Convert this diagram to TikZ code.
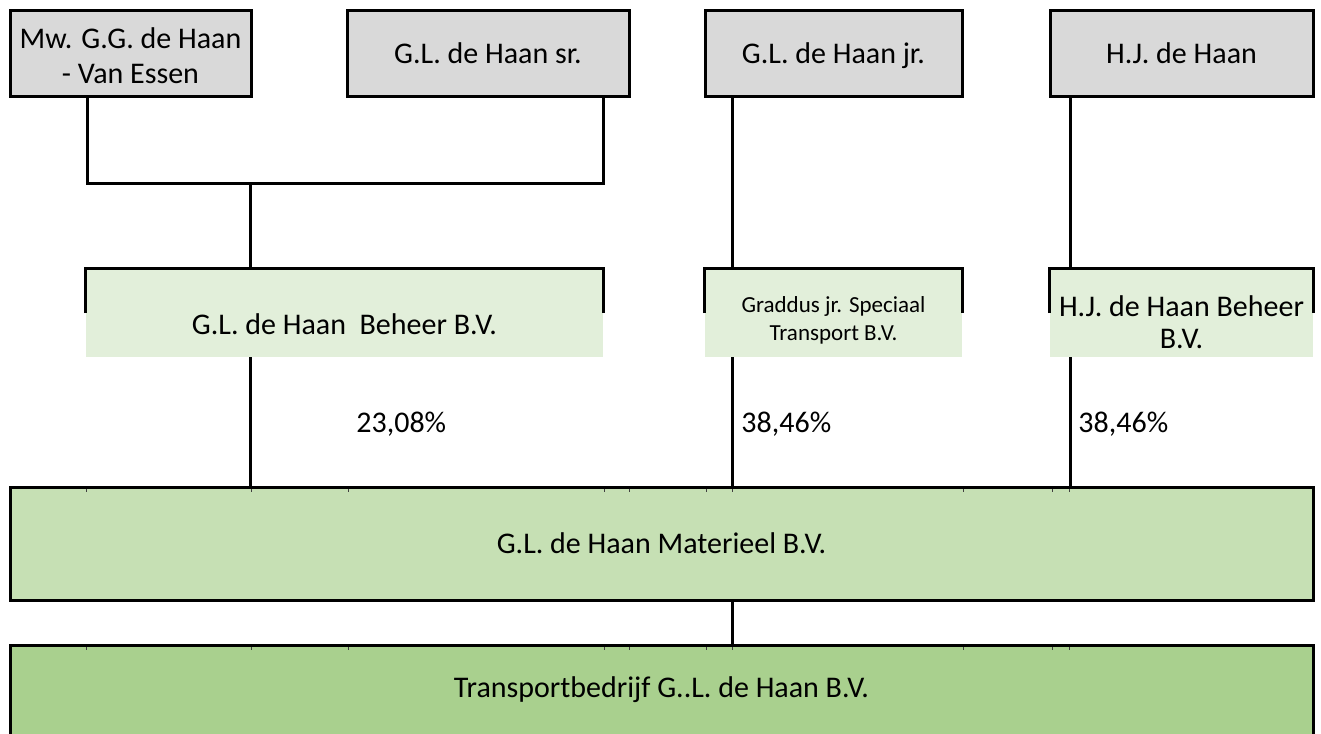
\documentclass[tikz,border=0pt]{standalone}
\usepackage{fontspec}
\setmainfont{Carlito}
\definecolor{greybox}{HTML}{D9D9D9}
\definecolor{palegreen}{HTML}{E2EFDA}
\definecolor{midgreen}{HTML}{C6E0B4}
\definecolor{darkgreen}{HTML}{A9D08E}
\newcommand\mystrut{\rule[-2.5pt]{0pt}{15pt}}
\begin{document}
\begin{tikzpicture}[x=0.5pt,y=-0.5pt,
  person/.style={draw=black,line width=1.5pt,fill=greybox,inner sep=0pt,
    minimum height=43pt,align=center,font=\fontsize{15}{17.5}\selectfont},
  holding/.style={fill=palegreen,inner sep=0pt,minimum height=44pt},
  company/.style={draw=black,line width=1.5pt,inner sep=0pt,
    minimum width=651.5pt,font=\fontsize{15}{18}\selectfont},
  conn/.style={draw=black,line width=1.5pt},
  partial/.style={draw=black,line width=1.5pt},
  txt/.style={inner sep=0pt,align=center,font=\fontsize{15}{16}\selectfont},
  pct/.style={inner sep=0pt,anchor=west,font=\fontsize{15}{18}\selectfont},
  tick/.style={draw=black!75,line width=0.5pt}]
\useasboundingbox (0,0) rectangle (1321,733);
\path[clip] (0,0) rectangle (1321,733);

% top row: persons
\node[person,minimum width=120.5pt] (b1) at (130.5,54) {};
\node[txt,font=\fontsize{15}{17.5}\selectfont] (b1T) at (130.5,56) {Mw. G.G. de Haan\\- Van Essen};
\node[person,minimum width=141pt] (b2) at (488,54) {G.L. de Haan sr.\mystrut};
\node[person,minimum width=128.5pt] (b3) at (833.5,54) {G.L. de Haan jr.\mystrut};
\node[person,minimum width=131.5pt] (b4) at (1181.5,54) {H.J. de Haan\mystrut};

% holdings
\node[holding,minimum width=258.5pt] (beh) at (344.5,313) {};
\node[txt] (behT) at (344.5,324) {G.L. de Haan\ \ Beheer B.V.};
\node[holding,minimum width=128.5pt] (gra) at (833.5,313) {};
\node[txt,font=\fontsize{11.5}{14}\selectfont] (graT) at (833.5,320) {Graddus jr. Speciaal\\Transport B.V.};
\node[holding,minimum width=131.5pt] (hjb) at (1181.5,313) {};
\node[txt] (hjbT) at (1181.5,322) {H.J. de Haan Beheer\\B.V.};
\foreach \n in {beh,gra,hjb}
  \draw[partial] (\n.west) -- (\n.north west) -- (\n.north east) -- (\n.east);

% companies
\node[company,fill=midgreen,minimum height=56.5pt] (mat) at (661.5,543.5) {G.L. de Haan Materieel B.V.};
\node[company,fill=darkgreen,minimum height=45pt] (trans) at (661.5,690) {Transportbedrijf G..L. de Haan B.V.};

% grid ticks
\foreach \x in {86,251,348,604,629,706,732,963,1052,1069}{
  \draw[tick] (\x,489) -- (\x,492);
  \draw[tick] (\x,647) -- (\x,650);
}

% percentages
\node[pct] (p1) at (356,424) {23,08\%};
\node[pct] (p2) at (741,424) {38,46\%};
\node[pct] (p3) at (1078,424) {38,46\%};

% connectors
\coordinate (ja) at (87,183);
\coordinate (jb) at (603,183);
\coordinate (jc) at (250,183);
\coordinate (xc) at (732,0);
\coordinate (xd) at (1070,0);
\draw[conn] (b1.south -| ja) -- (ja) -- (jb) -- (b2.south -| jb);
\draw[conn] (jc) -- (beh.north -| jc);
\draw[conn] (beh.south -| jc) -- (mat.north -| jc);
\draw[conn] (b3.south -| xc) -- (gra.north -| xc);
\draw[conn] (gra.south -| xc) -- (mat.north -| xc);
\draw[conn] (b4.south -| xd) -- (hjb.north -| xd);
\draw[conn] (hjb.south -| xd) -- (mat.north -| xd);
\draw[conn] (mat.south -| xc) -- (trans.north -| xc);
\end{tikzpicture}
\end{document}
